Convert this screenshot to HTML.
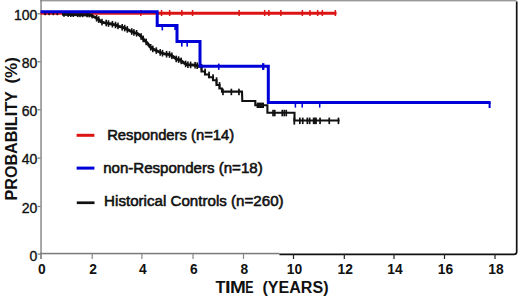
<!DOCTYPE html>
<html><head><meta charset="utf-8"><style>
html,body{margin:0;padding:0;background:#fff;}
svg{display:block;}
text{font-family:"Liberation Sans",sans-serif;fill:#111;}
.yl{font-size:14px;stroke:#111;stroke-width:0.35px;}
.xl{font-size:13.8px;font-weight:bold;}
.lg{font-size:14px;stroke:#111;stroke-width:0.55px;}
.ax{font-size:15.6px;font-weight:bold;}
</style></head><body>
<svg width="520" height="296" viewBox="0 0 520 296">
<rect width="520" height="296" fill="#fff"/>
<rect x="40" y="0" width="476.5" height="1.4" fill="#9a9a9a"/>
<rect x="40.3" y="0" width="1.5" height="259" fill="#8a8a8a"/>
<rect x="40" y="252.8" width="239.4" height="1.5" fill="#7a7a7a"/>
<path d="M279.4 254.3 H514.2 Q516.7 254.3 516.7 251.8 V1.6" stroke="#111" stroke-width="1.7" fill="none"/>
<rect x="37.5" y="13.2" width="3" height="1.2" fill="#777"/>
<rect x="37.5" y="61.2" width="3" height="1.2" fill="#777"/>
<rect x="37.5" y="109.2" width="3" height="1.2" fill="#777"/>
<rect x="37.5" y="157.5" width="3" height="1.2" fill="#777"/>
<rect x="37.5" y="205.9" width="3" height="1.2" fill="#777"/>
<rect x="37.5" y="253.5" width="3" height="1.2" fill="#777"/>
<rect x="40.4" y="254" width="1.2" height="5" fill="#888"/>
<rect x="91.6" y="254" width="1.2" height="5" fill="#888"/>
<rect x="141.3" y="254" width="1.2" height="5" fill="#888"/>
<rect x="192.4" y="254" width="1.2" height="5" fill="#888"/>
<rect x="242.9" y="254" width="1.2" height="5" fill="#888"/>
<rect x="292.9" y="254" width="1.2" height="5" fill="#222"/>
<rect x="343.7" y="254" width="1.2" height="5" fill="#222"/>
<rect x="393.4" y="254" width="1.2" height="5" fill="#222"/>
<rect x="443.9" y="254" width="1.2" height="5" fill="#222"/>
<rect x="494.4" y="254" width="1.2" height="5" fill="#222"/>
<path d="M40.5 13.3 H336.5" stroke="#dc1414" stroke-width="3" fill="none"/><rect x="140.1" y="10" width="1.5" height="6" fill="#dc1414"/><rect x="160.8" y="10" width="1.5" height="6" fill="#dc1414"/><rect x="168.9" y="10" width="1.5" height="6" fill="#dc1414"/><rect x="181.1" y="10" width="1.5" height="6" fill="#dc1414"/><rect x="191.8" y="10" width="1.5" height="6" fill="#dc1414"/><rect x="238.4" y="10" width="1.5" height="6" fill="#dc1414"/><rect x="263.9" y="10" width="1.5" height="6" fill="#dc1414"/><rect x="268.1" y="10" width="1.5" height="6" fill="#dc1414"/><rect x="280.1" y="10" width="1.5" height="6" fill="#dc1414"/><rect x="301.6" y="10" width="1.5" height="6" fill="#dc1414"/><rect x="309.2" y="10" width="1.5" height="6" fill="#dc1414"/><rect x="316.9" y="10" width="1.5" height="6" fill="#dc1414"/><rect x="321.6" y="10" width="1.5" height="6" fill="#dc1414"/><rect x="334.6" y="10" width="1.5" height="6" fill="#dc1414"/><rect x="44.3" y="12" width="1.8" height="3.2" fill="#300"/><rect x="48.3" y="12" width="1.8" height="3.2" fill="#300"/><rect x="52.4" y="12" width="1.8" height="3.2" fill="#300"/><rect x="56.4" y="12" width="1.8" height="3.2" fill="#300"/>
<path d="M62 14.4 L90 15.0 L95 17.3 L99 19.8 L101 21.8 L104 22.6 L107 23.2 L110 23.8 L113 24.3 L116 25.1 L119 26.3 L122 27.2 L125 28.2 L130 30.8 L135 32.8 L138 33.8 L141 36.4 L144 39.7 L147 42.7 L150 46.8 L153 49.0 L156 50.5 L160 52.3 L165 54 L170 54.6 L173 56.5 L176 58.8 L180 60 L184 63 L187 64.6 L196 65.3 L200 66.6" stroke="#111" stroke-width="2.9" fill="none" stroke-linejoin="round"/><path d="M200 66.6 L201.5 66.8 L201.5 71.5 L205 71.5 L205 74.5 L209 74.5 L209 77.2 L213 77.2 L213 80.2 L216.5 80.2 L216.5 85 L219.5 85 L219.5 88.5 L222 88.5 L222 91.6 L242 91.6 L242.3 101 L255.3 101 L255.3 105.3 L267.4 105.3 L267.4 112.7 L294.5 112.7 L294.5 120.5 L339.6 120.5" stroke="#111" stroke-width="2.1" fill="none" stroke-linejoin="miter"/><rect x="95.8" y="15.0" width="1.6" height="6.6" fill="#111"/><rect x="97.9" y="16.3" width="1.6" height="6.6" fill="#111"/><rect x="101.2" y="18.8" width="1.6" height="6.6" fill="#111"/><rect x="105.4" y="19.7" width="1.6" height="6.6" fill="#111"/><rect x="107.7" y="20.2" width="1.6" height="6.6" fill="#111"/><rect x="111.6" y="20.9" width="1.6" height="6.6" fill="#111"/><rect x="114.7" y="21.7" width="1.6" height="6.6" fill="#111"/><rect x="117.2" y="22.6" width="1.6" height="6.6" fill="#111"/><rect x="121.4" y="24.0" width="1.6" height="6.6" fill="#111"/><rect x="123.9" y="24.8" width="1.6" height="6.6" fill="#111"/><rect x="126.5" y="26.1" width="1.6" height="6.6" fill="#111"/><rect x="130.9" y="28.2" width="1.6" height="6.6" fill="#111"/><rect x="133.1" y="29.1" width="1.6" height="6.6" fill="#111"/><rect x="135.8" y="30.0" width="1.6" height="6.6" fill="#111"/><rect x="140.3" y="33.2" width="1.6" height="6.6" fill="#111"/><rect x="142.4" y="35.6" width="1.6" height="6.6" fill="#111"/><rect x="145.4" y="38.6" width="1.6" height="6.6" fill="#111"/><rect x="149.9" y="44.0" width="1.6" height="6.6" fill="#111"/><rect x="152.0" y="45.6" width="1.6" height="6.6" fill="#111"/><rect x="155.5" y="47.3" width="1.6" height="6.6" fill="#111"/><rect x="159.4" y="49.1" width="1.6" height="6.6" fill="#111"/><rect x="161.7" y="49.9" width="1.6" height="6.6" fill="#111"/><rect x="165.8" y="50.9" width="1.6" height="6.6" fill="#111"/><rect x="168.7" y="51.2" width="1.6" height="6.6" fill="#111"/><rect x="171.1" y="52.5" width="1.6" height="6.6" fill="#111"/><rect x="175.4" y="55.6" width="1.6" height="6.6" fill="#111"/><rect x="177.8" y="56.3" width="1.6" height="6.6" fill="#111"/><rect x="180.4" y="57.6" width="1.6" height="6.6" fill="#111"/><rect x="184.8" y="60.6" width="1.6" height="6.6" fill="#111"/><rect x="187.1" y="61.4" width="1.6" height="6.6" fill="#111"/><rect x="189.8" y="61.6" width="1.6" height="6.6" fill="#111"/><rect x="194.3" y="61.9" width="1.6" height="6.6" fill="#111"/><rect x="196.4" y="62.4" width="1.6" height="6.6" fill="#111"/><rect x="63.2" y="12.2" width="1.6" height="4.6" fill="#111"/><rect x="67.4" y="12.3" width="1.6" height="4.6" fill="#111"/><rect x="70.0" y="12.4" width="1.6" height="4.6" fill="#111"/><rect x="72.5" y="12.4" width="1.6" height="4.6" fill="#111"/><rect x="76.9" y="12.5" width="1.6" height="4.6" fill="#111"/><rect x="79.2" y="12.6" width="1.6" height="4.6" fill="#111"/><rect x="81.8" y="12.6" width="1.6" height="4.6" fill="#111"/><rect x="86.3" y="12.7" width="1.6" height="4.6" fill="#111"/><rect x="88.5" y="12.8" width="1.6" height="4.6" fill="#111"/><rect x="91.3" y="13.8" width="1.6" height="4.6" fill="#111"/><rect x="200.7" y="63.9" width="1.7" height="6.5" fill="#111"/><rect x="204.2" y="68.6" width="1.7" height="6.5" fill="#111"/><rect x="208.2" y="71.6" width="1.7" height="6.5" fill="#111"/><rect x="212.2" y="74.3" width="1.7" height="6.5" fill="#111"/><rect x="215.7" y="77.3" width="1.7" height="6.5" fill="#111"/><rect x="218.7" y="82.1" width="1.7" height="6.5" fill="#111"/><rect x="222.1" y="88.7" width="1.7" height="6.5" fill="#111"/><rect x="230.5" y="88.7" width="1.7" height="6.5" fill="#111"/><rect x="238.1" y="88.7" width="1.7" height="6.5" fill="#111"/><rect x="272.2" y="109.8" width="1.7" height="6.5" fill="#111"/><rect x="273.9" y="109.8" width="1.7" height="6.5" fill="#111"/><rect x="281.4" y="109.8" width="1.7" height="6.5" fill="#111"/><rect x="283.4" y="109.8" width="1.7" height="6.5" fill="#111"/><rect x="285.4" y="109.8" width="1.7" height="6.5" fill="#111"/><rect x="299.0" y="117.6" width="1.7" height="6.5" fill="#111"/><rect x="301.9" y="117.6" width="1.7" height="6.5" fill="#111"/><rect x="306.5" y="117.6" width="1.7" height="6.5" fill="#111"/><rect x="308.8" y="117.6" width="1.7" height="6.5" fill="#111"/><rect x="312.8" y="117.6" width="1.7" height="6.5" fill="#111"/><rect x="314.0" y="117.6" width="1.7" height="6.5" fill="#111"/><rect x="315.2" y="117.6" width="1.7" height="6.5" fill="#111"/><rect x="319.2" y="117.6" width="1.7" height="6.5" fill="#111"/><rect x="328.4" y="117.6" width="1.7" height="6.5" fill="#111"/><rect x="337.6" y="117.6" width="1.7" height="6.5" fill="#111"/><rect x="293.4" y="117.6" width="1.8" height="7" fill="#111"/><rect x="256.6" y="102.6" width="7.4" height="5.4" fill="#111"/>
<path d="M40.5 11.7 H157.2 V25.6 H177 V41.5 H200 V66.2 H268.3 V102.5 H490.6" stroke="#0000d8" stroke-width="3" fill="none"/><rect x="161.50" y="25.6" width="1.6" height="4.8" fill="#0000d8"/><rect x="174.30" y="25.6" width="2.2" height="4.4" fill="#0000d8"/><rect x="181.00" y="41.5" width="1.6" height="5.1" fill="#0000d8"/><rect x="186.40" y="41.5" width="1.6" height="5.1" fill="#0000d8"/><rect x="217.95" y="63.6" width="1.6" height="6.3" fill="#0000d8"/><rect x="262.00" y="63.2" width="2.4" height="6.7" fill="#0000d8"/><rect x="294.65" y="102.5" width="1.5" height="5.1" fill="#0000d8"/><rect x="301.45" y="102.5" width="1.5" height="5.1" fill="#0000d8"/><rect x="318.95" y="102.5" width="1.5" height="5.1" fill="#0000d8"/><rect x="488.60" y="102.5" width="2" height="5.5" fill="#0000d8"/>

<rect x="76.6" y="133.8" width="17.8" height="3" fill="#dc1414"/>
<rect x="76.6" y="166.6" width="17.8" height="3" fill="#0000d8"/>
<rect x="76.8" y="201.4" width="17.7" height="2.7" fill="#111"/>
<text x="107.2" y="139.8" class="lg" textLength="127" lengthAdjust="spacingAndGlyphs">Responders (n=14)</text>
<text x="103.2" y="173.0" class="lg" textLength="159.5" lengthAdjust="spacingAndGlyphs">non-Responders (n=18)</text>
<text x="104.1" y="206.2" class="lg" textLength="179.5" lengthAdjust="spacingAndGlyphs">Historical Controls (n=260)</text>

<text x="37.4" y="20.0" text-anchor="end" class="yl">100</text><text x="37.4" y="67.9" text-anchor="end" class="yl">80</text><text x="37.4" y="116.0" text-anchor="end" class="yl">60</text><text x="37.4" y="164.3" text-anchor="end" class="yl">40</text><text x="37.4" y="212.7" text-anchor="end" class="yl">20</text><text x="37.4" y="260.5" text-anchor="end" class="yl">0</text>
<text x="41.9" y="274.3" text-anchor="middle" class="xl">0</text><text x="93.1" y="274.3" text-anchor="middle" class="xl">2</text><text x="142.8" y="274.3" text-anchor="middle" class="xl">4</text><text x="193.9" y="274.3" text-anchor="middle" class="xl">6</text><text x="244.4" y="274.3" text-anchor="middle" class="xl">8</text><text x="294.4" y="274.3" text-anchor="middle" class="xl">10</text><text x="345.2" y="274.3" text-anchor="middle" class="xl">12</text><text x="394.9" y="274.3" text-anchor="middle" class="xl">14</text><text x="445.4" y="274.3" text-anchor="middle" class="xl">16</text><text x="495.9" y="274.3" text-anchor="middle" class="xl">18</text>

<text x="215.4" y="292.6" class="ax" textLength="9.9" lengthAdjust="spacingAndGlyphs">T</text>
<text x="225.0" y="292.6" class="ax" textLength="5.6" lengthAdjust="spacingAndGlyphs">I</text>
<text x="230.0" y="292.6" class="ax" textLength="15.8" lengthAdjust="spacingAndGlyphs">M</text>
<text x="245.3" y="292.6" class="ax" textLength="8.3" lengthAdjust="spacingAndGlyphs">E</text>
<text x="262.5" y="292.6" class="ax" textLength="66" lengthAdjust="spacingAndGlyphs">(YEARS)</text>
<g transform="translate(16.7,0) rotate(-90)">
<text x="-200.5" y="0" class="ax" textLength="109.3" lengthAdjust="spacingAndGlyphs">PROBABILITY</text>
<text x="-83.6" y="0" class="ax" textLength="26.4" lengthAdjust="spacingAndGlyphs">(%)</text>
</g>

</svg>
</body></html>
